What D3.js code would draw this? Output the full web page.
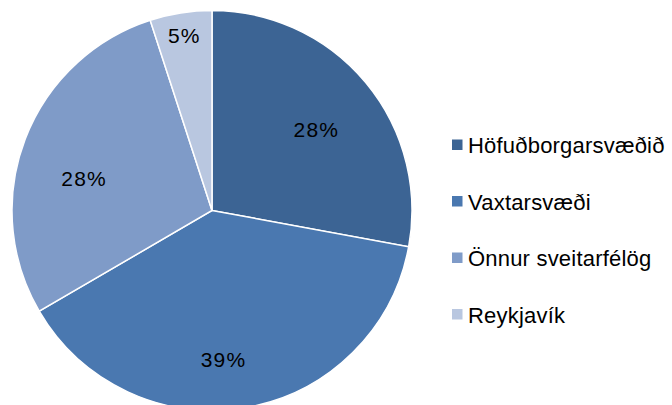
<!DOCTYPE html>
<html>
<head>
<meta charset="utf-8">
<script src="https://cdn.jsdelivr.net/npm/d3@7"></script>
<style>
  body { margin: 0; background: #fff; }
  #chart { width: 672px; height: 405px; overflow: hidden; }
  text { font-family: "Liberation Sans", Arial, sans-serif; fill: #000; }
</style>
</head>
<body>
<div id="chart"></div>
<script>
// data (share of total, %)
const categories = ["Höfuðborgarsvæðið", "Vaxtarsvæði", "Önnur sveitarfélög", "Reykjavík"];
const values = [27.9, 38.7, 28.4, 5.0];
const labels = ["28%", "39%", "28%", "5%"];
const colors = ["#3c6494", "#4a78b0", "#7f9bc8", "#b9c7e0"];

const w = 672, h = 405;
const cx = 212, cy = 210.5, r = 200;

const svg = d3.select("#chart").append("svg")
    .attr("width", w)
    .attr("height", h);

const pie = d3.pie().sort(null).value(d => d);
const arcs = pie(values);

const arc = d3.arc().innerRadius(0).outerRadius(r);

const g = svg.append("g")
    .attr("transform", "translate(" + cx + "," + cy + ")");

g.selectAll("path")
    .data(arcs)
    .enter()
    .append("path")
    .attr("d", arc)
    .style("fill", (d, i) => colors[i])
    .style("stroke", "#fff")
    .style("stroke-width", 1.5);

// label placement (best fit style): radius fraction + angle nudge per slice
const labelR = [0.66, 0.745, 0.66, 0.885];
const labelNudge = [2, 5.5, -6.6, 0];  // degrees

g.selectAll(".lbl")
    .data(arcs)
    .enter()
    .append("text")
    .attr("class", "lbl")
    .attr("x", (d, i) => {
        let a = (d.startAngle + d.endAngle) / 2 + labelNudge[i] * Math.PI / 180;
        return Math.sin(a) * r * labelR[i];
    })
    .attr("y", (d, i) => {
        let a = (d.startAngle + d.endAngle) / 2 + labelNudge[i] * Math.PI / 180;
        return -Math.cos(a) * r * labelR[i];
    })
    .attr("dy", "0.36em")
    .style("text-anchor", "middle")
    .style("font-size", "21px")
    .style("letter-spacing", "1.2px")
    .text((d, i) => labels[i]);

// LEGEND
const ly = d3.scalePoint()
    .domain(categories)
    .range([145, 314.5]);

const legend = svg.append("g").attr("class", "legend");

const rows = legend.selectAll("g")
    .data(categories)
    .enter()
    .append("g")
    .attr("transform", d => "translate(452," + ly(d) + ")");

rows.append("rect")
    .attr("x", 0)
    .attr("y", -5.5)
    .attr("width", 10.5)
    .attr("height", 10.5)
    .style("fill", (d, i) => colors[i]);

rows.append("text")
    .attr("x", 16)
    .attr("y", 8)
    .style("font-size", "22px")
    .style("letter-spacing", "0.2px")
    .text(d => d);
</script>
</body>
</html>
